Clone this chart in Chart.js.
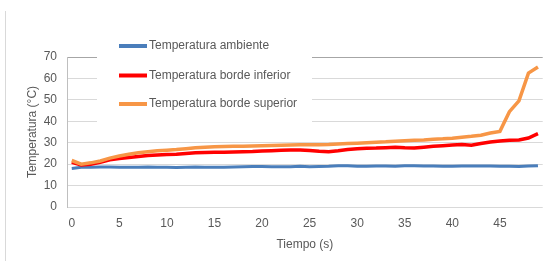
<!DOCTYPE html>
<html>
<head>
<meta charset="utf-8">
<script src="https://cdn.jsdelivr.net/npm/chart.js@4"></script>
<style>
  html, body { margin: 0; padding: 0; background: #fff; }
  canvas { display: block; }
</style>
</head>
<body>
<canvas id="chart" width="547" height="261"></canvas>
<script>
// data
const tiempo = Array.from({ length: 50 }, (_, i) => String(i));
const xTicks = ['0', '5', '10', '15', '20', '25', '30', '35', '40', '45'];

const ambiente = [
  18.0, 18.5, 18.6, 18.7, 18.7, 18.6, 18.5, 18.6, 18.7, 18.6,
  18.5, 18.4, 18.6, 18.7, 18.6, 18.6, 18.6, 18.7, 18.8, 18.9,
  18.9, 18.8, 18.8, 18.8, 19.0, 18.8, 18.9, 19.0, 19.3, 19.2,
  19.0, 19.0, 19.1, 19.1, 19.0, 19.2, 19.3, 19.1, 19.1, 19.0,
  19.0, 19.1, 19.1, 19.1, 19.1, 19.0, 19.0, 18.9, 19.1, 19.3
];
const bordeInferior = [
  20.8, 19.6, 20.0, 20.9, 22.0, 22.6, 23.1, 23.6, 24.0, 24.3,
  24.5, 24.6, 25.0, 25.3, 25.4, 25.5, 25.6, 25.7, 25.8, 25.9,
  26.1, 26.3, 26.5, 26.6, 26.6, 26.4, 26.0, 25.8, 26.2, 26.8,
  27.2, 27.4, 27.5, 27.7, 27.9, 27.6, 27.5, 27.9, 28.3, 28.6,
  28.9, 29.2, 28.8, 29.6, 30.3, 30.8, 31.2, 31.3, 32.2, 34.2
];
const bordeSuperior = [
  21.7, 20.0, 20.6, 21.5, 22.8, 23.8, 24.6, 25.3, 25.8, 26.2,
  26.5, 26.8, 27.2, 27.6, 27.9, 28.1, 28.2, 28.3, 28.3, 28.5,
  28.6, 28.7, 28.8, 28.9, 29.0, 29.0, 29.1, 29.2, 29.4, 29.6,
  29.8, 30.0, 30.2, 30.4, 30.7, 30.9, 31.1, 31.3, 31.6, 31.8,
  32.1, 32.6, 33.0, 33.5, 34.5, 35.3, 44.5, 49.5, 62.5, 65.3
];

const textColor = '#595959';
const fontFamily = "'Liberation Sans', Arial, sans-serif";

// Excel-like legend box drawn over the plot, plus the frame line on the left
const excelLegend = {
  id: 'excelLegend',
  beforeDraw(chart) {
    const ctx = chart.ctx;
    ctx.save();
    ctx.strokeStyle = '#d9d9d9';
    ctx.lineWidth = 1;
    ctx.beginPath();
    ctx.moveTo(5.5, 11);
    ctx.lineTo(5.5, 261);
    ctx.stroke();
    ctx.restore();
  },
  afterDatasetsDraw(chart) {
    const ctx = chart.ctx;
    ctx.save();
    ctx.fillStyle = '#fff';
    ctx.fillRect(97, 34, 215, 92);
    const rows = [46, 75.5, 104];
    chart.data.datasets.forEach((ds, i) => {
      ctx.strokeStyle = ds.borderColor;
      ctx.lineWidth = 4;
      ctx.beginPath();
      ctx.moveTo(119, rows[i]);
      ctx.lineTo(147, rows[i]);
      ctx.stroke();
      ctx.fillStyle = textColor;
      ctx.font = '12px ' + fontFamily;
      ctx.textBaseline = 'middle';
      ctx.fillText(ds.label, 149, rows[i]);
    });
    ctx.restore();
  }
};

new Chart(document.getElementById('chart'), {
  type: 'line',
  data: {
    labels: tiempo,
    datasets: [
      // later series sit on top, like in Excel
      { label: 'Temperatura ambiente', data: ambiente, borderColor: '#4a7ebb', borderWidth: 3, order: 3 },
      { label: 'Temperatura borde inferior', data: bordeInferior, borderColor: '#ff0000', borderWidth: 3.5, order: 2 },
      { label: 'Temperatura borde superior', data: bordeSuperior, borderColor: '#f79646', borderWidth: 3.5, order: 1 }
    ]
  },
  plugins: [excelLegend],
  options: {
    responsive: false,
    animation: false,
    layout: { padding: { top: 57, right: 4, left: 0, bottom: 0 } },
    elements: { point: { radius: 0 }, line: { tension: 0 } },
    plugins: { legend: { display: false }, tooltip: { enabled: false } },
    scales: {
      x: {
        offset: true,
        grid: { display: false, drawTicks: false },
        border: { display: false },
        afterFit: s => { s.height = 54; },
        ticks: {
          autoSkip: false,
          maxRotation: 0,
          padding: 9,
          color: textColor,
          font: { family: fontFamily, size: 12 },
          callback: function (v) {
            const l = this.getLabelForValue(v);
            return xTicks.includes(l) ? l : '';
          }
        },
        title: {
          display: true,
          text: 'Tiempo (s)',
          color: textColor,
          font: { family: fontFamily, size: 12 },
          padding: { top: 0, bottom: 9 }
        }
      },
      y: {
        min: 0,
        max: 70,
        afterFit: s => { s.width = 67; },
        grid: {
          drawTicks: false,
          color: c => c.tick.value === 70 ? '#a6a6a6' : '#d9d9d9'
        },
        border: { display: true, color: '#bfbfbf' },
        ticks: {
          stepSize: 10,
          padding: 10,
          color: textColor,
          font: { family: fontFamily, size: 12 }
        },
        title: {
          display: true,
          text: 'Temperatura (°C)',
          color: textColor,
          font: { family: fontFamily, size: 12 },
          padding: { top: 25, bottom: 0 }
        }
      }
    }
  }
});
</script>
</body>
</html>
